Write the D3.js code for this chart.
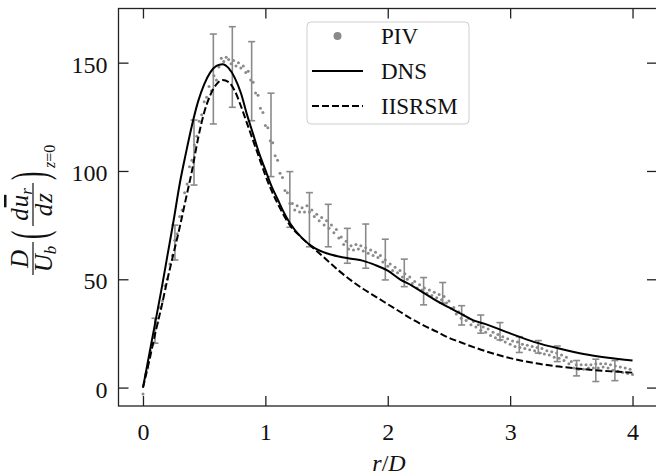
<!DOCTYPE html>
<html><head><meta charset="utf-8">
<script src="https://cdn.jsdelivr.net/npm/d3@7"></script>
<style>body{margin:0;background:#fff} svg{display:block}</style>
</head><body>
<script>
// ---------- DATA ----------
const xTicks = [0, 1, 2, 3, 4];
const yTicks = [0, 50, 100, 150];
const legendLabels = ["PIV", "DNS", "IISRSM"];

const dnsR = [0,0.05,0.1,0.15,0.2,0.25,0.3,0.35,0.4,0.45,0.5,0.55,0.6,0.65,0.7,0.75,0.8,0.85,0.9,0.95,1.0,1.05,1.1,1.15,1.2,1.3,1.4,1.5,1.6,1.7,1.8,1.9,2.0,2.1,2.2,2.3,2.4,2.5,2.6,2.7,2.8,3.0,3.2,3.4,3.6,3.8,4.0];
const dnsV = [0,15,30,45,61,77,94,108,121,132,140,145.5,148.5,149.3,147.5,143,136,126,117,108,100.5,93,87,81,76,69,64.5,62,60.5,59.5,58.5,56.5,54,50,47,43.5,40,37,34,31,29.3,25,21,18,15.5,13.8,12.5];

const lesR = [0,0.05,0.1,0.15,0.2,0.25,0.3,0.35,0.4,0.45,0.5,0.55,0.6,0.65,0.7,0.75,0.8,0.85,0.9,0.95,1.0,1.05,1.1,1.2,1.3,1.4,1.5,1.6,1.7,1.8,1.9,2.0,2.1,2.2,2.3,2.4,2.5,2.6,2.8,3.0,3.2,3.4,3.6,3.8,4.0];
const lesV = [0,12,25,37,50,62,74,87,100,115,127,135,140,142,141,137,130,122,114,106,98,91,85,75,69,64,59,54,49.5,45.5,42,38.5,35,31.5,28.5,25.8,23,20.8,16.8,13.6,11.3,9.7,8.5,7.6,6.9];

const pivR = [0,0.02,0.04,0.06,0.08,0.1,0.12,0.14,0.16,0.18,0.2,0.22,0.24,0.26,0.28,0.3,0.32,0.34,0.36,0.38,0.4,0.42,0.44,0.46,0.48,0.5,0.52,0.54,0.56,0.58,0.6,0.62,0.64,0.66,0.68,0.7,0.72,0.74,0.76,0.78,0.8,0.82,0.84,0.86,0.88,0.9,0.92,0.94,0.96,0.98,1.0,1.02,1.04,1.06,1.08,1.1,1.12,1.14,1.16,1.18,1.2,1.22,1.24,1.26,1.28,1.3,1.32,1.34,1.36,1.38,1.4,1.42,1.44,1.46,1.48,1.5,1.52,1.54,1.56,1.58,1.6,1.62,1.64,1.66,1.68,1.7,1.72,1.74,1.76,1.78,1.8,1.82,1.84,1.86,1.88,1.9,1.92,1.94,1.96,1.98,2.0,2.02,2.04,2.06,2.08,2.1,2.12,2.14,2.16,2.18,2.2,2.22,2.24,2.26,2.28,2.3,2.32,2.34,2.36,2.38,2.4,2.42,2.44,2.46,2.48,2.5,2.52,2.54,2.56,2.58,2.6,2.62,2.64,2.66,2.68,2.7,2.72,2.74,2.76,2.78,2.8,2.82,2.84,2.86,2.88,2.9,2.92,2.94,2.96,2.98,3.0,3.02,3.04,3.06,3.08,3.1,3.12,3.14,3.16,3.18,3.2,3.22,3.24,3.26,3.28,3.3,3.32,3.34,3.36,3.38,3.4,3.42,3.44,3.46,3.48,3.5,3.52,3.54,3.56,3.58,3.6,3.62,3.64,3.66,3.68,3.7,3.72,3.74,3.76,3.78,3.8,3.82,3.84,3.86,3.88,3.9,3.92,3.94,3.96,3.98,4.0];
const pivV = [-3,6,9,17,20,27,30,37,40,47,50,57,61,68,71,79,82,90,94,102,105,112,116,123,126,132,134,139,137,144,142,148,152,150.5,152.5,151.5,149.5,151,148.5,150,147.5,148.5,145.5,146,142,141,136,135,129,127,121,120,114,113,107,105,99,97,91,90,85,85,82,84,81,83,81,84,81,82,79,80,77,78.5,75,77,73.5,75,71.5,73,69,69.5,66,67.5,64,65.5,63.5,66,64,65.5,63,64.5,62,63.5,61,62.5,60,61,58,59,56,57,54,55.5,53,54,51,52.5,50,51,48,49,46,47.5,45,46,43.5,45,42.5,44,41.5,43,40.5,42,39,40,36.5,37,34,35,32,33.5,31,32,29,30.5,28,29,26.5,28,25.5,27,24,25.5,23,24.5,22,23.5,21,22.5,20,21.5,19,21,18.5,20,18,19.5,17.5,19,17,18.5,16,18,15.5,17,15,16.5,14,16,13.5,15,12.5,14,11,12,9,10.5,8.5,10.5,8.5,10.5,9,10.5,9,11,9,11,9.5,11,9,10.5,8,10,7.5,9.5,7,9,6.5,8.5,6];

const errR  = [0.098,0.261,0.417,0.575,0.73,0.888,1.046,1.2,1.36,1.514,1.67,1.82,1.98,2.135,2.293,2.449,2.604,2.76,2.917,3.075,3.23,3.385,3.543,3.7,3.856];
const errLo = [20.5,58.9,93.5,121.7,129.4,123.2,97.4,74,65,65,57.4,55.1,49.7,46.6,38.2,39,28.9,25.1,22,16.2,15.9,12,5.4,2.8,3.2];
const errHi = [32,75,123.5,163.2,166.6,159.7,135.9,99.7,90,84.6,73.5,75.5,68.5,59.3,50.8,48.5,37.8,33.5,30,23.5,21.7,19.2,12.5,13.1,12.5];

// ---------- CHART ----------
const W = 656, H = 475;
const FONT = "'Liberation Serif','Times New Roman',serif";
const svg = d3.select("body").append("svg").attr("width", W).attr("height", H)
  .style("font-family", FONT);

const pL = 118.5, pR = 657, pT = 8.5, pB = 406;
const x = d3.scaleLinear().domain([-0.2, 4.2]).range([pL, pR]);
const y = d3.scaleLinear().domain([-8.5, 175]).range([pB, pT]);

const grey = "#8a8a8a";

// error bars
const eb = svg.append("g").attr("stroke", grey).attr("stroke-width", 1.6).attr("fill", "none");
errR.forEach((r, i) => {
  const cx = x(r), y0 = y(errLo[i]), y1 = y(errHi[i]);
  eb.append("line").attr("x1", cx).attr("x2", cx).attr("y1", y0).attr("y2", y1);
  eb.append("line").attr("x1", cx - 3.5).attr("x2", cx + 3.5).attr("y1", y0).attr("y2", y0);
  eb.append("line").attr("x1", cx - 3.5).attr("x2", cx + 3.5).attr("y1", y1).attr("y2", y1);
});

// PIV dots
svg.append("g").selectAll("circle").data(pivR).join("circle")
  .attr("cx", d => x(d)).attr("cy", (d, i) => y(pivV[i])).attr("r", 1.5).attr("fill", grey);

// lines
const line = d3.line().curve(d3.curveMonotoneX);
svg.append("path").attr("d", line(dnsR.map((r, i) => [x(r), y(dnsV[i])])))
  .attr("fill", "none").attr("stroke", "#000").attr("stroke-width", 2);
svg.append("path").attr("d", line(lesR.map((r, i) => [x(r), y(lesV[i])])))
  .attr("fill", "none").attr("stroke", "#000").attr("stroke-width", 2).attr("stroke-dasharray", "7,3");

// axes
const axCol = "#222";
function styleAxis(g, keepText) {
  g.select(".domain").remove();
  g.selectAll(".tick line").attr("stroke", axCol).attr("stroke-width", 1.3);
  if (!keepText) g.selectAll("text").remove();
  else g.selectAll("text").attr("fill", "#111").style("font-family", FONT).style("font-size", "24px");
}
const gx = svg.append("g").attr("transform", `translate(0,${pB})`)
  .call(d3.axisBottom(x).tickValues(xTicks).tickSize(-10).tickFormat(d3.format("d")));
styleAxis(gx, true);
gx.selectAll("text").attr("y", 34).attr("dy", 0);

const gxt = svg.append("g").attr("transform", `translate(0,${pT})`)
  .call(d3.axisTop(x).tickValues(xTicks).tickSize(-10));
styleAxis(gxt, false);

const gy = svg.append("g").attr("transform", `translate(${pL},0)`)
  .call(d3.axisLeft(y).tickValues(yTicks).tickSize(-10).tickFormat(d3.format("d")));
styleAxis(gy, true);
gy.selectAll("text").attr("x", -11).attr("dy", "0.4em");

const gyr = svg.append("g").attr("transform", `translate(${pR},0)`)
  .call(d3.axisRight(y).tickValues(yTicks).tickSize(-10));
styleAxis(gyr, false);

// frame
svg.append("rect").attr("x", pL).attr("y", pT).attr("width", pR - pL).attr("height", pB - pT)
  .attr("fill", "none").attr("stroke", axCol).attr("stroke-width", 1.3);

// x label
const xl = svg.append("text").attr("x", 389).attr("y", 471).attr("text-anchor", "middle")
  .style("font-size", "24px").attr("fill", "#111");
xl.append("tspan").style("font-style", "italic").text("r");
xl.append("tspan").text("/");
xl.append("tspan").style("font-style", "italic").text("D");

// y label (math), drawn in a rotated frame
const yl = svg.append("g").attr("transform", "translate(33,276) rotate(-90)").attr("fill", "#111");
const F = 25;
yl.append("text").attr("x", 17).attr("y", -5).attr("text-anchor", "middle")
  .style("font-style", "italic").style("font-size", F + "px").text("D");
yl.append("line").attr("x1", 1).attr("x2", 34).attr("y1", 0).attr("y2", 0).attr("stroke", "#111").attr("stroke-width", 1.2);
const den1 = yl.append("text").attr("x", 17).attr("y", 19).attr("text-anchor", "middle").style("font-size", F + "px");
den1.append("tspan").style("font-style", "italic").text("U");
den1.append("tspan").style("font-style", "italic").style("font-size", "17px").attr("dy", 4).text("b");

yl.append("text").attr("transform", "translate(37,13) scale(0.5,1)").style("font-size", "50px").text("(");

const num2 = yl.append("text").attr("x", 71.5).attr("y", -5).attr("text-anchor", "middle").style("font-size", F + "px");
num2.append("tspan").style("font-style", "italic").text("d");
num2.append("tspan").style("font-style", "italic").style("text-decoration", "overline").attr("dx", 1).text("u");
num2.append("tspan").style("font-style", "italic").style("font-size", "17px").attr("dy", 4).text("r");
yl.append("line").attr("x1", 50).attr("x2", 93).attr("y1", 0).attr("y2", 0).attr("stroke", "#111").attr("stroke-width", 1.2);
const den2 = yl.append("text").attr("x", 71.5).attr("y", 19).attr("text-anchor", "middle").style("font-size", F + "px");
den2.append("tspan").style("font-style", "italic").text("d");
den2.append("tspan").style("font-style", "italic").attr("dx", 1).text("z");

yl.append("text").attr("transform", "translate(96,13) scale(0.5,1)").style("font-size", "50px").text(")");
const sub = yl.append("text").attr("x", 108).attr("y", 22).style("font-size", "16px");
sub.append("tspan").style("font-style", "italic").text("z");
sub.append("tspan").text("=0");

// legend
const lg = svg.append("g");
lg.append("rect").attr("x", 307).attr("y", 22).attr("width", 162).attr("height", 102).attr("rx", 4)
  .attr("fill", "#fff").attr("fill-opacity", 0.8).attr("stroke", "#cfcfcf").attr("stroke-width", 1);
const rowY = [36, 71, 106];
lg.append("circle").attr("cx", 337.5).attr("cy", rowY[0]).attr("r", 4).attr("fill", grey);
lg.append("line").attr("x1", 312).attr("x2", 363).attr("y1", rowY[1]).attr("y2", rowY[1]).attr("stroke", "#000").attr("stroke-width", 2);
lg.append("line").attr("x1", 312).attr("x2", 363).attr("y1", rowY[2]).attr("y2", rowY[2]).attr("stroke", "#000").attr("stroke-width", 2).attr("stroke-dasharray", "7,3");
legendLabels.forEach((t, i) => {
  lg.append("text").attr("x", 381).attr("y", rowY[i] + 8).style("font-size", "23px").attr("fill", "#111").text(t);
});
</script>
</body></html>
